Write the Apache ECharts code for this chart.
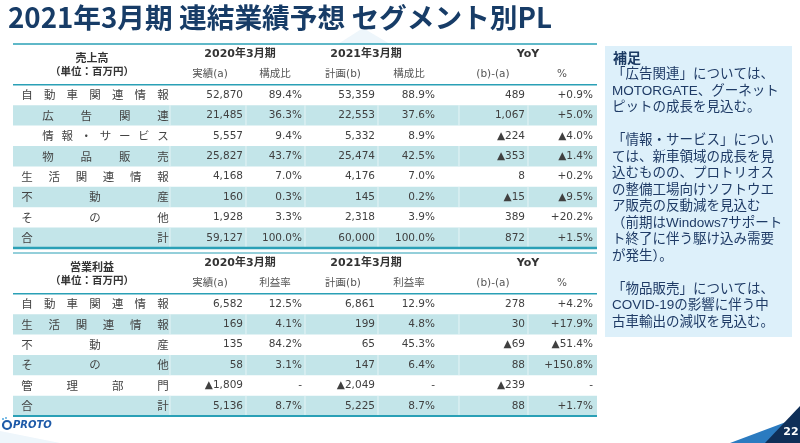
<!DOCTYPE html>
<html><head><meta charset="utf-8">
<script src="https://cdn.jsdelivr.net/npm/echarts@6/dist/echarts.min.js"></script>
<style>html,body{margin:0;padding:0;background:#fff}#c{width:800px;height:443px}</style>
</head><body><div id="c"></div>
<script>
// ---------- data ----------
const pageTitle = '2021年3月期 連結業績予想 セグメント別PL';
const periodLabels = ['2020年3月期', '2021年3月期', 'YoY'];
const salesHeader = ['売上高', '（単位：百万円）'];
const salesSubHeaders = ['実績(a)', '構成比', '計画(b)', '構成比', '(b)-(a)', '%'];
const salesSegments = ['自動車関連情報', '広告関連', '情報・サービス', '物品販売', '生活関連情報', '不動産', 'その他', '合計'];
const salesIndent = [false, true, true, true, false, false, false, false];
const sales2020 = [52870, 21485, 5557, 25827, 4168, 160, 1928, 59127];
const salesRatio2020 = [89.4, 36.3, 9.4, 43.7, 7.0, 0.3, 3.3, 100.0];
const sales2021 = [53359, 22553, 5332, 25474, 4176, 145, 2318, 60000];
const salesRatio2021 = [88.9, 37.6, 8.9, 42.5, 7.0, 0.2, 3.9, 100.0];
const salesDiff = [489, 1067, -224, -353, 8, -15, 389, 872];
const salesDiffPct = [0.9, 5.0, -4.0, -1.4, 0.2, -9.5, 20.2, 1.5];

const profitHeader = ['営業利益', '（単位：百万円）'];
const profitSubHeaders = ['実績(a)', '利益率', '計画(b)', '利益率', '(b)-(a)', '%'];
const profitSegments = ['自動車関連情報', '生活関連情報', '不動産', 'その他', '管理部門', '合計'];
const profitIndent = [false, false, false, false, false, false];
const profit2020 = [6582, 169, 135, 58, -1809, 5136];
const margin2020 = [12.5, 4.1, 84.2, 3.1, null, 8.7];
const profit2021 = [6861, 199, 65, 147, -2049, 5225];
const margin2021 = [12.9, 4.8, 45.3, 6.4, null, 8.7];
const profitDiff = [278, 30, -69, 88, -239, 88];
const profitDiffPct = [4.2, 17.9, -51.4, 150.8, null, 1.7];

const noteTitle = '補足';
const noteLines = [
  '「広告関連」については、', 'MOTORGATE、グーネット', 'ピットの成長を見込む。', '',
  '「情報・サービス」につい', 'ては、新車領域の成長を見', '込むものの、プロトリオス', 'の整備工場向けソフトウエ',
  'ア販売の反動減を見込む', '（前期はWindows7サポート', 'ト終了に伴う駆け込み需要', 'が発生）。', '',
  '「物品販売」については、', 'COVID-19の影響に伴う中', '古車輸出の減収を見込む。'
];
const pageNumber = '22';
const logoText = 'PROTO';

// ---------- layout / style ----------
const L = {
  numRight: [230, 289, 362, 422, 512, 580],
  subCenter: [197, 262, 330, 396, 480, 549],
  groupCenter: [227, 353, 515],
  sep: [157, 233, 292, 365, 446, 515],
  labelStart: 14, labelIndent: 35, labelEnd: 150, labelCenter: 79
};
const TEAL_LINE = '#2aa0b6', TEAL_BG = '#c3e5e9', TXT = '#404040';
const NUM_FONT = '10.5px "DejaVu Sans", "Noto Sans CJK JP", sans-serif';
const LABEL_FONT = '11.5px "Noto Sans CJK JP", sans-serif';
const SUB_FONT = '10.5px "DejaVu Sans", "Noto Sans CJK JP", sans-serif';
const GROUP_FONT = 'bold 11px "DejaVu Sans", "Noto Sans CJK JP", sans-serif';
const HEAD_FONT = 'bold 11px "Noto Sans CJK JP", sans-serif';
const UNIT_FONT = 'bold 10.5px "Noto Sans CJK JP", sans-serif';

function fmtNum(v) { return v == null ? '-' : (v < 0 ? '▲' : '') + Math.abs(v).toLocaleString('en-US'); }
function fmtRatio(v) { return v == null ? '-' : v.toFixed(1) + '%'; }
function fmtYoY(v) { return v == null ? '-' : (v < 0 ? '▲' : '+') + Math.abs(v).toFixed(1) + '%'; }

function txt(x, y, s, font, align, fill) {
  return { type: 'text', style: { x: x, y: y, text: s, font: font, fill: fill || TXT, align: align || 'left', verticalAlign: 'middle' }, z2: 5 };
}
function ln(x1, y1, x2, y2, w, c) {
  return { type: 'line', shape: { x1: x1, y1: y1, x2: x2, y2: y2 }, style: { stroke: c || TEAL_LINE, lineWidth: w }, z2: 10 };
}

function makeRender(t) {
  return function (params, api) {
    const idx = params.dataIndex;
    const row = api.value(1);
    const h = api.size([0, 1])[1];
    const cs = params.coordSys;
    const X = u => api.coord([u, row])[0];
    const cy = api.coord([0, row])[1];
    const els = [];
    if (idx === 0) {
      const cy1 = api.coord([0, row + 1])[1];
      const mid = (cy + cy1) / 2;
      els.push(txt(X(L.labelCenter), mid - 6.5, t.header[0], HEAD_FONT, 'center', '#333'));
      els.push(txt(X(L.labelCenter), mid + 6.5, t.header[1], UNIT_FONT, 'center', '#333'));
      periodLabels.forEach((s, k) => els.push(txt(X(L.groupCenter[k]), cy, s, GROUP_FONT, 'center', '#333')));
      t.sub.forEach((s, k) => els.push(txt(X(L.subCenter[k]), cy1, s, SUB_FONT, 'center', '#555')));
      els.push(ln(cs.x, cs.y, cs.x + cs.width, cs.y, t.topW));
      els.push(ln(cs.x, cy1 + h / 2, cs.x + cs.width, cy1 + h / 2, 1.5));
      els.push(ln(cs.x, cs.y + cs.height, cs.x + cs.width, cs.y + cs.height, t.botW));
    } else {
      const r = idx - 1;
      const y0 = cy - h / 2;
      if (r % 2 === 1) {
        els.push({ type: 'rect', shape: { x: cs.x, y: y0, width: cs.width, height: h }, style: { fill: TEAL_BG }, z2: 1 });
        L.sep.forEach(sx => els.push({ type: 'line', shape: { x1: X(sx), y1: y0, x2: X(sx), y2: y0 + h }, style: { stroke: '#e6f4f6', lineWidth: 1 }, z2: 2 }));
      }
      const chars = Array.from(t.segs[r]);
      const xs = X(t.indent[r] ? L.labelIndent : L.labelStart);
      const xe = X(L.labelEnd);
      const n = chars.length;
      chars.forEach((ch, k) => {
        const x = n === 1 ? xs : xs + (xe - xs) * k / (n - 1);
        els.push(txt(x, cy, ch, LABEL_FONT, 'center', '#444'));
      });
      const vals = [fmtNum(t.c[0][r]), fmtRatio(t.c[1][r]), fmtNum(t.c[2][r]), fmtRatio(t.c[3][r]), fmtNum(t.c[4][r]), fmtYoY(t.c[5][r])];
      vals.forEach((s, k) => els.push(txt(X(L.numRight[k]), cy, s, NUM_FONT, 'right')));
    }
    return { type: 'group', children: els };
  };
}

const salesTable = { header: salesHeader, sub: salesSubHeaders, segs: salesSegments, indent: salesIndent,
  c: [sales2020, salesRatio2020, sales2021, salesRatio2021, salesDiff, salesDiffPct], topW: 1.5, botW: 2.5 };
const profitTable = { header: profitHeader, sub: profitSubHeaders, segs: profitSegments, indent: profitIndent,
  c: [profit2020, margin2020, profit2021, margin2021, profitDiff, profitDiffPct], topW: 1.2, botW: 2 };

function rowsData(n) { const d = [[0, 0]]; for (let i = 0; i < n; i++) d.push([0, i + 2]); return d; }
function cats(n) { return Array.from({ length: n + 2 }, (_, i) => String(i)); }

// note graphics
const noteEls = [
  { type: 'rect', shape: { x: 605, y: 46, width: 187, height: 291 }, style: { fill: '#ddf0fa' }, z: 1 },
  { type: 'text', x: 613, y: 58, style: { text: noteTitle, font: 'bold 14px "Noto Sans CJK JP", sans-serif', fill: '#1b3a63', verticalAlign: 'middle' }, z: 2 }
];
noteLines.forEach((s, k) => {
  if (s) noteEls.push({ type: 'text', x: 612, y: 74.5 + k * 16.5, style: { text: s, font: '13.5px "Liberation Sans", "Noto Sans CJK JP", sans-serif', fill: '#1f3b66', verticalAlign: 'middle' }, z: 2 });
});

const chart = echarts.init(document.getElementById('c'), null, { renderer: 'canvas' });
chart.setOption({
  backgroundColor: '#ffffff',
  animation: false,
  grid: [
    { left: 13, top: 44, width: 584, height: 204 },
    { left: 13, top: 253, width: 584, height: 163 }
  ],
  xAxis: [
    { gridIndex: 0, type: 'value', min: 0, max: 584, show: false },
    { gridIndex: 1, type: 'value', min: 0, max: 584, show: false }
  ],
  yAxis: [
    { gridIndex: 0, type: 'category', inverse: true, data: cats(salesSegments.length), show: false },
    { gridIndex: 1, type: 'category', inverse: true, data: cats(profitSegments.length), show: false }
  ],
  series: [
    { type: 'custom', xAxisIndex: 0, yAxisIndex: 0, renderItem: makeRender(salesTable), data: rowsData(salesSegments.length), encode: { x: 0, y: 1 }, silent: true, clip: false, z: 3 },
    { type: 'custom', xAxisIndex: 1, yAxisIndex: 1, renderItem: makeRender(profitTable), data: rowsData(profitSegments.length), encode: { x: 0, y: 1 }, silent: true, clip: false, z: 3 }
  ],
  graphic: [
    { type: 'polygon', shape: { points: [[363, 28], [338, 44], [390, 44]] }, style: { fill: '#eef6fb' }, z: 0 },
    { type: 'polygon', shape: { points: [[0, 431], [60, 443], [0, 443]] }, style: { fill: '#eef6fb' }, z: 0 },
    { type: 'text', x: 8, y: 17, style: { text: pageTitle, font: 'bold 27.7px "Noto Sans CJK JP", sans-serif', fill: '#173c67', verticalAlign: 'middle' }, z: 5 },
    ...noteEls,
    { type: 'circle', shape: { cx: 7, cy: 425, r: 4 }, style: { fill: 'none', stroke: '#1e5aa8', lineWidth: 2.2 }, z: 5 },
    { type: 'circle', shape: { cx: 3, cy: 419, r: 1 }, style: { fill: '#4aa3dc' }, z: 5 },
    { type: 'circle', shape: { cx: 6, cy: 418, r: 0.9 }, style: { fill: '#4aa3dc' }, z: 5 },
    { type: 'text', x: 13, y: 425, style: { text: logoText, font: 'italic bold 10px "DejaVu Sans", sans-serif', fill: '#1e5aa8', verticalAlign: 'middle' }, z: 5 },
    { type: 'polygon', shape: { points: [[730, 443], [786, 422], [800, 416], [800, 443]] }, style: { fill: '#2b7bc0' }, z: 5 },
    { type: 'polygon', shape: { points: [[765, 443], [800, 406], [800, 443]] }, style: { fill: '#0f2f58' }, z: 6 },
    { type: 'text', x: 791, y: 432, style: { text: pageNumber, font: 'bold 11px "DejaVu Sans", sans-serif', fill: '#ffffff', align: 'center', verticalAlign: 'middle' }, z: 7 }
  ]
});
</script>
</body></html>
